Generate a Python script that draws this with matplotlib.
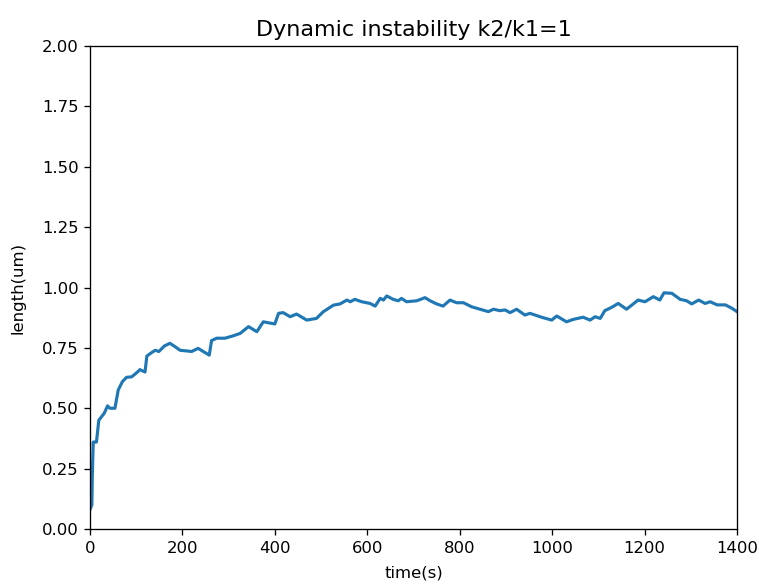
import matplotlib
matplotlib.use("Agg")
import matplotlib.pyplot as plt

# Simulated microtubule length over time
time_s = [0, 4, 5, 7, 14, 19, 25, 31, 38, 43, 54, 61, 70, 79, 90, 101, 108, 119,
          123, 133, 141, 149, 161, 173, 184, 195, 206, 220, 234, 245, 258, 263,
          274, 292, 310, 325, 343, 361, 375, 400, 408, 418, 433, 447, 469, 490,
          505, 527, 541, 556, 563, 573, 588, 606, 617, 628, 635, 642, 656, 667,
          674, 685, 707, 725, 736, 750, 764, 779, 793, 808, 826, 844, 862, 873,
          887, 898, 909, 923, 941, 952, 963, 977, 999, 1010, 1031, 1046, 1067,
          1082, 1093, 1104, 1114, 1129, 1143, 1161, 1186, 1201, 1219, 1233, 1242,
          1259, 1277, 1291, 1302, 1317, 1331, 1342, 1357, 1375, 1389, 1400]
length_um = [0.08, 0.10, 0.22, 0.36, 0.36, 0.45, 0.465, 0.48, 0.51, 0.50, 0.50,
             0.575, 0.61, 0.628, 0.63, 0.647, 0.66, 0.65, 0.716, 0.73, 0.74,
             0.735, 0.758, 0.769, 0.755, 0.74, 0.738, 0.735, 0.748, 0.735, 0.72,
             0.78, 0.79, 0.79, 0.80, 0.81, 0.838, 0.817, 0.858, 0.849, 0.893,
             0.896, 0.879, 0.89, 0.865, 0.872, 0.90, 0.927, 0.932, 0.948, 0.941,
             0.951, 0.941, 0.934, 0.923, 0.955, 0.948, 0.965, 0.951, 0.945, 0.955,
             0.941, 0.945, 0.958, 0.945, 0.932, 0.923, 0.948, 0.937, 0.937, 0.92,
             0.91, 0.90, 0.91, 0.904, 0.907, 0.896, 0.91, 0.886, 0.893, 0.886,
             0.877, 0.865, 0.882, 0.858, 0.868, 0.877, 0.865, 0.879, 0.872, 0.904,
             0.918, 0.934, 0.91, 0.948, 0.941, 0.962, 0.948, 0.978, 0.976, 0.951,
             0.945, 0.932, 0.948, 0.934, 0.941, 0.928, 0.928, 0.914, 0.90]

dpi = 118.6
fig = plt.figure(figsize=(759 / dpi, 585 / dpi), dpi=dpi)
ax = fig.add_subplot(111)
fig.subplots_adjust(left=90 / 759, right=737 / 759, top=1 - 46 / 585, bottom=1 - 529 / 585)

ax.plot(time_s, length_um, color="#1f77b4", linewidth=1.9)
ax.set_xlim(0, 1400)
ax.set_ylim(0, 2)
ax.set_xlabel("time(s)", labelpad=6)
ax.set_ylabel("length(um)", labelpad=10)
ax.set_title("Dynamic instability k2/k1=1", fontsize=13.5)

fig.savefig("out.png", dpi=dpi)
